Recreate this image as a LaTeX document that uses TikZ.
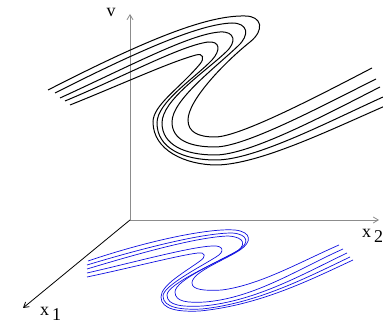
\documentclass[tikz,border=0pt]{standalone}
\usepackage{fontspec}
\setmainfont{Liberation Serif}
\usetikzlibrary{arrows.meta, positioning}
\definecolor{axisGray}{HTML}{8C8C8C}
\definecolor{projBlue}{HTML}{1010E0}
\tikzset{
  axis/.style={draw=#1, line width=0.8pt, -{Straight Barb[length=5pt, width=6pt]}},
  leaf/.style={draw=black, line width=1pt},
  shadow/.style={draw=projBlue, line width=0.7pt},
  lbl/.style={inner sep=0pt, font=\fontsize{18}{20}\selectfont},
}

\begin{document}
\begin{tikzpicture}[x=1pt, y=-1pt]
\useasboundingbox (0,0) rectangle (383,328);
% axes
\coordinate (origin) at (130,220);
\coordinate (vEnd) at (130,14);
\coordinate (xtwoEnd) at (379,220);
\coordinate (xoneEnd) at (23,308);
\draw[axis=axisGray] (origin) -- (vEnd);
\draw[axis=axisGray] (origin) -- (xtwoEnd);
\draw[axis=black] (origin) -- (xoneEnd);
\node[lbl] (vLabel) at (111,12) {v};
\node[lbl, anchor=west] (xtwoLabel) at (362,236) {x\,\raisebox{-5pt}{2}};
\node[lbl, anchor=west] (xoneLabel) at (40,314) {x\,\raisebox{-5pt}{1}};

% folded leaves
\draw[leaf] (48,90) .. controls (140,43) and (205,15) .. (245,16)
  .. controls (262,16) and (265,30) .. (250,42)
  .. controls (225,62) and (188,100) .. (188,120)
  .. controls (188,132) and (198,137) .. (215,137)
  .. controls (240,137) and (320,95) .. (372,68);
\draw[leaf] (55,93) .. controls (140,50) and (200,24) .. (232,23)
  .. controls (248,23) and (250,35) .. (238,46)
  .. controls (215,68) and (172,100) .. (172,122)
  .. controls (172,140) and (190,147) .. (215,147)
  .. controls (245,147) and (320,107) .. (376,79);
\draw[leaf] (60,98) .. controls (130,66) and (190,34) .. (220,32)
  .. controls (235,31) and (237,42) .. (226,52)
  .. controls (205,72) and (162,100) .. (162,123)
  .. controls (162,145) and (185,155) .. (215,155)
  .. controls (250,155) and (325,115) .. (380,87);
\draw[leaf] (65,101) .. controls (125,76) and (180,46) .. (208,42)
  .. controls (220,41) and (221,50) .. (212,60)
  .. controls (195,78) and (157,102) .. (157,123)
  .. controls (157,148) and (183,160) .. (216,160)
  .. controls (255,160) and (328,122) .. (383,97);
\draw[leaf] (70,105) .. controls (120,85) and (170,62) .. (196,55)
  .. controls (203,53) and (205,58) .. (200,64)
  .. controls (180,88) and (153,105) .. (153,122)
  .. controls (153,150) and (185,165) .. (217,165)
  .. controls (260,164) and (330,130) .. (385,106);

% projection on the x1-x2 plane
\draw[shadow] (88,261) .. controls (150,240) and (210,228) .. (235,230)
  .. controls (252,232) and (252,242) .. (240,250)
  .. controls (225,260) and (192,272) .. (192,283)
  .. controls (192,290) and (205,291) .. (222,290)
  .. controls (260,285) and (300,262) .. (339,245);
\draw[shadow] (87,265) .. controls (150,246) and (205,233) .. (232,233)
  .. controls (249,234) and (250,244) .. (237,251)
  .. controls (220,261) and (175,280) .. (175,292)
  .. controls (175,302) and (188,303) .. (205,302)
  .. controls (255,298) and (300,268) .. (343,249);
\draw[shadow] (87,269) .. controls (150,250) and (200,237) .. (228,236)
  .. controls (246,237) and (247,246) .. (234,253)
  .. controls (218,262) and (167,284) .. (167,295)
  .. controls (167,306) and (183,307) .. (203,306)
  .. controls (257,301) and (305,273) .. (347,253);
\draw[shadow] (87,273) .. controls (135,262) and (190,247) .. (212,246)
  .. controls (224,245) and (225,252) .. (216,257)
  .. controls (200,267) and (163,286) .. (163,296)
  .. controls (163,308) and (182,310) .. (202,309)
  .. controls (258,303) and (308,277) .. (350,257);
\draw[shadow] (87,277) .. controls (130,268) and (180,255) .. (198,253)
  .. controls (206,252) and (206,257) .. (200,261)
  .. controls (185,272) and (161,285) .. (161,297)
  .. controls (161,310) and (180,312) .. (200,311)
  .. controls (260,305) and (310,280) .. (353,260);
\end{tikzpicture}
\end{document}
